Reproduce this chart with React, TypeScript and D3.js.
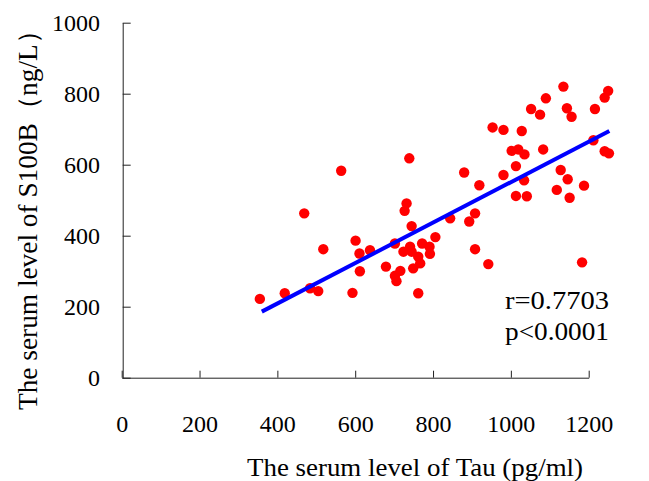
import React, { useRef, useEffect } from "react";
import * as d3 from "d3";

// serum Tau (pg/ml) vs serum S100B (ng/L)
const tau = [
  355, 419, 484, 505, 469, 564, 518, 601, 611, 593, 612, 638, 679, 702, 702,
  706, 716, 724, 727, 732, 739, 741, 745, 745, 749, 762, 767, 762, 772, 791,
  792, 806, 844, 880, 893, 908, 908, 919, 942, 953, 981, 981, 1002, 1019, 1035,
  1013, 1028, 1052, 1034, 1013, 1041, 1075, 1090, 1135, 1144, 1156, 1216, 1241,
  1250, 1212, 1241, 1252, 1083, 1128, 1146, 1188, 1118, 1151, 1183,
];
const s100b = [
  222, 238, 252, 244, 463, 583, 362, 386, 350, 239, 300, 359, 313, 378, 287,
  272, 301, 355, 470, 491, 618, 369, 355, 427, 308, 341, 322, 238, 378, 369,
  349, 396, 449, 578, 440, 463, 362, 542, 320, 705, 698, 571, 639, 643, 629,
  596, 695, 757, 556, 512, 511, 741, 787, 820, 759, 735, 757, 789, 808, 669,
  638, 632, 643, 585, 559, 541, 529, 507, 325,
];

// fitted line
const fitRange = [360, 1253];
const fitSlope = 0.5699;
const fitIntercept = -19.1;

const xTicks = [0, 200, 400, 600, 800, 1000, 1200];
const yTicks = [0, 200, 400, 600, 800, 1000];
const stats = ["r=0.7703", "p<0.0001"];

const W = 649;
const H = 481;
const FONT = "'Liberation Serif', 'Times New Roman', serif";

export default function App() {
  const xAxisRef = useRef<SVGGElement>(null);
  const yAxisRef = useRef<SVGGElement>(null);

  const x = d3.scaleLinear().domain([0, 1200]).range([121.7, 588.7]);
  const y = d3.scaleLinear().domain([0, 1000]).range([377.7, 22.7]);

  useEffect(() => {
    const fmt = d3.format("d");

    const gx = d3.select(xAxisRef.current);
    gx.call(
      d3.axisBottom(x).tickValues(xTicks).tickFormat(fmt).tickSizeInner(-7).tickSizeOuter(0).tickPadding(37)
    );
    gx.attr("font-family", FONT).attr("font-size", 24);
    gx.selectAll("text").style("font-family", FONT).style("font-size", "24px").attr("fill", "#000");
    gx.selectAll("line,path").attr("stroke", "#222");

    const gy = d3.select(yAxisRef.current);
    gy.call(
      d3.axisLeft(y).tickValues(yTicks).tickFormat(fmt).tickSizeInner(-8).tickSizeOuter(0).tickPadding(22.7)
    );
    gy.attr("font-family", FONT).attr("font-size", 24);
    gy.selectAll("text").style("font-family", FONT).style("font-size", "24px").attr("fill", "#000");
    gy.selectAll("line,path").attr("stroke", "#222");
  }, []);

  const fitLine = d3
    .line<number>()
    .x((d) => x(d))
    .y((d) => y(fitIntercept + fitSlope * d));

  return (
    <svg
      width={W}
      height={H}
      style={{ position: "absolute", left: 0, top: 0, background: "#fff" }}
    >
      <g ref={xAxisRef} transform={`translate(0,${y(0)})`} />
      <g ref={yAxisRef} transform={`translate(${x(0) + 1},0)`} />

      {tau.map((t, i) => (
        <circle key={i} cx={x(t)} cy={y(s100b[i])} r={5.2} fill="#ff0000" />
      ))}

      <path d={fitLine(fitRange) || ""} stroke="#0000ff" strokeWidth={4} fill="none" />

      {stats.map((s, i) => (
        <text
          key={s}
          x={505}
          y={309 + i * 31}
          fontFamily={FONT}
          fontSize={25}
          textLength={104}
          lengthAdjust="spacingAndGlyphs"
          fill="#000"
        >
          {s}
        </text>
      ))}

      <text
        x={415}
        y={476}
        textAnchor="middle"
        fontFamily={FONT}
        fontSize={26}
        textLength={336}
        lengthAdjust="spacingAndGlyphs"
        fill="#000"
      >
        The serum level of Tau (pg/ml)
      </text>

      <text
        transform="translate(37,213.5) rotate(-90)"
        textAnchor="middle"
        fontFamily={FONT}
        fontSize={27}
        textLength={393}
        lengthAdjust="spacingAndGlyphs"
        fill="#000"
      >
        The serum level of S100B（ng/L）
      </text>
    </svg>
  );
}
